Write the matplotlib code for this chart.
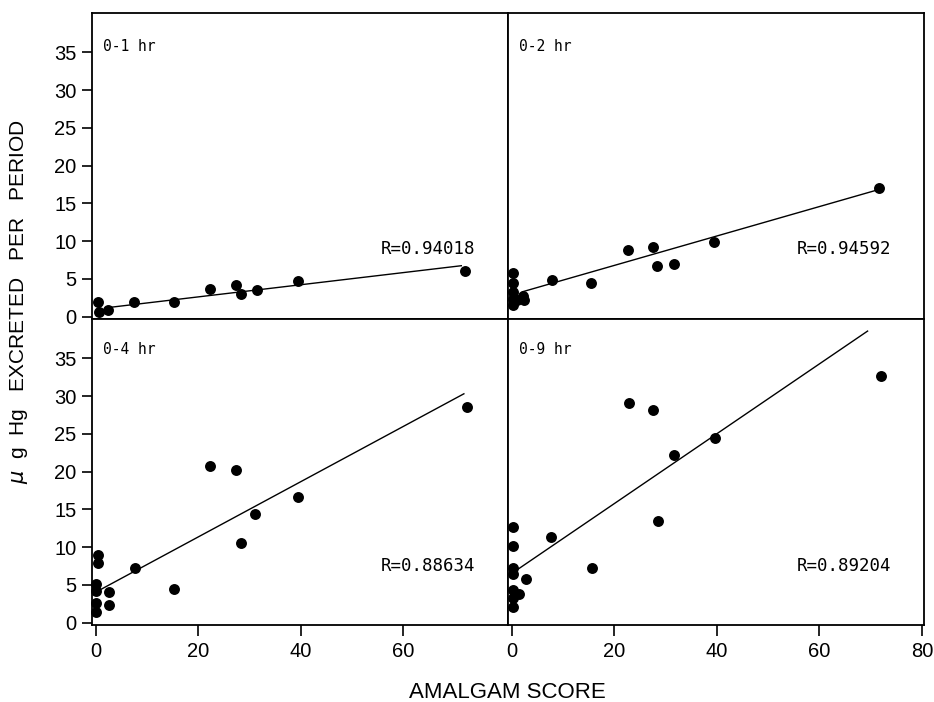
import matplotlib
matplotlib.use("Agg")
import matplotlib.pyplot as plt

# ===== DATA =====
# 0-1 hr
t1_x = [0.45, 0.6, 2.4, 7.4, 15.3, 22.4, 27.4, 28.4, 31.5, 39.5, 72.0]
t1_y = [1.9, 0.6, 0.95, 2.0, 2.0, 3.7, 4.25, 3.05, 3.6, 4.75, 6.0]
fit1_x = [2.3, 71.3]
fit1_y = [1.2, 6.75]
# 0-2 hr
t2_x = [0.2, 0.2, 0.2, 0.2, 0.2, 1.0, 2.3, 2.4, 7.8, 15.5, 22.6, 27.5, 28.4, 31.6, 39.4, 71.7]
t2_y = [5.8, 4.4, 3.3, 2.4, 1.6, 2.2, 2.7, 2.2, 4.8, 4.5, 8.8, 9.25, 6.75, 6.95, 9.85, 17.0]
fit2_x = [2.1, 70.9]
fit2_y = [3.3, 16.7]
# 0-4 hr
t4_x = [0.4, 0.4, 0.15, 0.15, 2.6, 0.15, 2.6, 0.15, 7.6, 15.3, 22.3, 27.4, 28.3, 31.1, 39.5, 72.4]
t4_y = [9.0, 7.9, 5.1, 4.2, 4.1, 2.6, 2.3, 1.4, 7.3, 4.5, 20.8, 20.2, 10.6, 14.4, 16.7, 28.5]
fit4_x = [1.0, 71.8]
fit4_y = [4.4, 30.3]
# 0-9 hr
t9_x = [0.2, 0.2, 0.2, 0.2, 0.2, 1.5, 0.2, 0.2, 2.8, 7.65, 15.6, 22.8, 27.5, 28.6, 31.7, 39.7, 72.1]
t9_y = [12.7, 10.2, 7.3, 6.4, 4.35, 3.85, 3.3, 2.1, 5.8, 11.4, 7.25, 29.1, 28.1, 13.5, 22.2, 24.5, 32.6]
fit9_x = [0.85, 69.4]
fit9_y = [6.9, 38.6]

panel_labels = ["0-1 hr", "0-2 hr", "0-4 hr", "0-9 hr"]
r_labels = ["R=0.94018", "R=0.94592", "R=0.88634", "R=0.89204"]
y_ticks = [0, 5, 10, 15, 20, 25, 30, 35]
x_ticks_left = [0, 20, 40, 60]
x_ticks_right = [0, 20, 40, 60, 80]

plt.rcParams['font.family'] = ['Liberation Sans', 'DejaVu Sans']

fig = plt.figure(figsize=(9.34, 7.02), dpi=100)
gs = fig.add_gridspec(2, 2, left=0.0985, right=0.9893, top=0.9815, bottom=0.1097,
                      wspace=0, hspace=0)

panels = [
    (t1_x, t1_y, fit1_x, fit1_y),
    (t2_x, t2_y, fit2_x, fit2_y),
    (t4_x, t4_y, fit4_x, fit4_y),
    (t9_x, t9_y, fit9_x, fit9_y),
]

for i, (px, py, fx, fy) in enumerate(panels):
    ax = fig.add_subplot(gs[i // 2, i % 2])
    ax.plot(fx, fy, color='black', lw=1.0)
    ax.scatter(px, py, s=62, color='black', zorder=3, clip_on=False, linewidths=0)
    ax.set_xlim(-0.7, 80.4)
    ax.set_ylim(-0.3, 40.2)
    for sp in ax.spines.values():
        sp.set_linewidth(1.3)
    row, col = i // 2, i % 2
    if col == 0:
        ax.set_yticks(y_ticks)
        ax.tick_params(axis='y', direction='out', length=7, width=1.2, pad=4, labelsize=14.5)
    else:
        ax.set_yticks([])
    if row == 1:
        ax.set_xticks(x_ticks_left if col == 0 else x_ticks_right)
        ax.tick_params(axis='x', direction='out', length=8, width=1.2, pad=4, labelsize=14.5)
    else:
        ax.set_xticks([])
    ax.text(0.027, 0.89 if row == 0 else 0.899, panel_labels[i], transform=ax.transAxes,
            family='DejaVu Sans Mono', fontsize=10.5, ha='left', va='center')
    ax.text(0.922, 0.228 if row == 0 else 0.193, r_labels[i], transform=ax.transAxes,
            family='DejaVu Sans Mono', fontsize=12.5, ha='right', va='center')

fig.text(507 / 934, 1 - 693 / 702, "AMALGAM SCORE", ha='center', va='center', fontsize=16)
fig.text(19 / 934, 1 - 302 / 702, r"$\mu$  g  Hg   EXCRETED   PER   PERIOD",
         ha='center', va='center', rotation=90, fontsize=15)

plt.savefig("out.png", dpi=100)
